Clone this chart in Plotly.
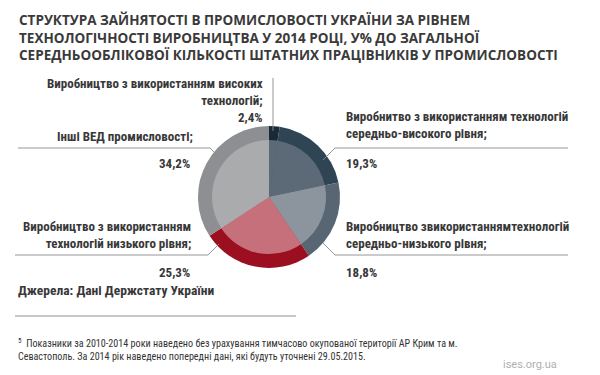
import plotly.graph_objects as go

# ---- data ----
categories = [
    "Виробництво з використанням високих технологій",
    "Виробнитво з використанням технологій середньо-високого рівня",
    "Виробництво звикористаннямтехнологій середньо-низького рівня",
    "Виробництво з використанням технологій низького рівня",
    "Інші ВЕД промисловості",
]
values = [2.4, 19.3, 18.8, 25.3, 34.2]
value_labels = ["2,4%", "19,3%", "18,8%", "25,3%", "34,2%"]
outer_colors = ["#182a38", "#304554", "#586673", "#9b0f20", "#8d8f92"]
inner_colors = ["#5c6a77", "#5c6a77", "#8c959e", "#c6707b", "#a9abad"]

W, H = 600, 375
LABEL_FONT = "Roboto Condensed, Liberation Sans Narrow, Roboto, sans-serif"
TXT = "#383838"


def px(x):
    return x / W


def py(y):
    return 1 - y / H


cx, cy, R, r_in = 269, 197, 71, 57

fig = go.Figure()
fig.add_trace(go.Pie(
    labels=categories, values=values, sort=False, direction="clockwise", rotation=0,
    hole=0.0, marker=dict(colors=outer_colors, line=dict(width=0)),
    textinfo="none", hoverinfo="label+value", showlegend=False,
    domain=dict(x=[px(cx - R), px(cx + R)], y=[py(cy + R), py(cy - R)]),
))
fig.add_trace(go.Pie(
    labels=categories, values=values, sort=False, direction="clockwise", rotation=0,
    marker=dict(colors=inner_colors, line=dict(width=0)),
    textinfo="none", hoverinfo="label+value", showlegend=False,
    domain=dict(x=[px(cx - r_in), px(cx + r_in)], y=[py(cy + r_in), py(cy - r_in)]),
))

ann = []


def add_text(text, x, y, xanchor="left", align="left", size=13, color=TXT, family=LABEL_FONT, yanchor="middle"):
    ann.append(dict(text=text, x=px(x), y=py(y), xref="paper", yref="paper",
                    xanchor=xanchor, yanchor=yanchor, align=align, showarrow=False,
                    font=dict(family=family, size=size, color=color)))


# title
add_text("<b>СТРУКТУРА ЗАЙНЯТОСТІ В ПРОМИСЛОВОСТІ УКРАЇНИ ЗА РІВНЕМ<br>"
         "ТЕХНОЛОГІЧНОСТІ ВИРОБНИЦТВА У 2014 РОЦІ, У% ДО ЗАГАЛЬНОЇ<br>"
         "СЕРЕДНЬООБЛІКОВОЇ КІЛЬКОСТІ ШТАТНИХ ПРАЦІВНИКІВ У ПРОМИСЛОВОСТІ</b>",
         17, 37, size=13.5, color="#3a3a3a", family="Open Sans, sans-serif")

# left labels
add_text("<b>Виробництво з використанням високих<br>технологій;<br>" + value_labels[0] + "</b>",
         265, 101, xanchor="right", align="right")
add_text("<b>Інші ВЕД промисловості;</b>", 195, 136, xanchor="right", align="right")
add_text("<b>" + value_labels[4] + "</b>", 192, 163, xanchor="right", align="right")
add_text("<b>Виробництво з використанням<br>технологій низького рівня;</b>", 193, 235,
         xanchor="right", align="right")
add_text("<b>" + value_labels[3] + "</b>", 192, 272, xanchor="right", align="right")
add_text("<b>Джерела: Дані Держстату України</b>", 16, 290, size=13.5)

# right labels
add_text("<b>Виробнитво з використанням технологій<br>середньо-високого рівня;</b>", 344, 125)
add_text("<b>" + value_labels[1] + "</b>", 344, 163)
add_text("<b>Виробництво звикористаннямтехнологій<br>середньо-низького рівня;</b>", 344, 235)
add_text("<b>" + value_labels[2] + "</b>", 344, 272)

# footnote
add_text("<sup>5</sup>  Показники за 2010-2014 роки наведено без урахування тимчасово окупованої території АР Крим та м.<br>"
         "Севастополь. За 2014 рік наведено попередні дані, які будуть уточнені 29.05.2015.",
         16, 349, size=10.1, color="#333333")
add_text("ises.org.ua", 530, 364, xanchor="center", size=11, color="#b0b0b0",
         family="Roboto, sans-serif")

# leader lines
LC = "#8a8a8a"
segments = [
    [(273, 78), (273, 131)],
    [(18, 148), (210, 148), (224, 162)],
    [(15, 255), (208, 255), (219, 244)],
    [(568, 148), (335, 148), (323, 160)],
    [(568, 255), (335, 255), (323, 243)],
]
shapes = []
for seg in segments:
    path = "M " + " L ".join(f"{px(x):.5f},{py(y):.5f}" for x, y in seg)
    shapes.append(dict(type="path", path=path, xref="paper", yref="paper",
                       line=dict(color=LC, width=0.9)))
shapes.append(dict(type="line", x0=px(15), x1=px(296), y0=py(316), y1=py(316),
                   xref="paper", yref="paper", line=dict(color="#b5b5b5", width=1.6)))

fig.update_layout(width=W, height=H, margin=dict(l=0, r=0, t=0, b=0),
                  paper_bgcolor="white", plot_bgcolor="white",
                  annotations=ann, shapes=shapes)
fig.write_html("out.html", config={"displayModeBar": False},
               post_script="document.body.style.margin='0';")
